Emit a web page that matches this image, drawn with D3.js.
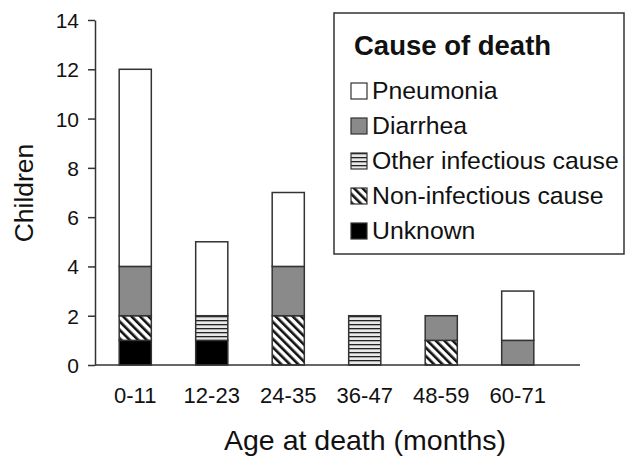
<!DOCTYPE html>
<html><head><meta charset="utf-8">
<script src="https://cdn.jsdelivr.net/npm/d3@7"></script>
<style>
html,body{margin:0;padding:0;background:#fff;}
text{font-family:"Liberation Sans",Arial,sans-serif;fill:#111;}
</style></head>
<body>
<svg id="chart" width="628" height="456"></svg>
<script>
const categories = ["0-11","12-23","24-35","36-47","48-59","60-71"];
const causes = ["Unknown","Non-infectious cause","Other infectious cause","Diarrhea","Pneumonia"];
const unknown        = [1,1,0,0,0,0];
const nonInfectious  = [1,0,2,0,1,0];
const otherInfectious= [0,1,0,2,0,0];
const diarrhea       = [2,0,2,0,1,1];
const pneumonia      = [8,3,3,0,0,2];
const yTicks = [0,2,4,6,8,10,12,14];
const legendOrder = ["Pneumonia","Diarrhea","Other infectious cause","Non-infectious cause","Unknown"];

const seriesByCause = {
  "Unknown": unknown,
  "Non-infectious cause": nonInfectious,
  "Other infectious cause": otherInfectious,
  "Diarrhea": diarrhea,
  "Pneumonia": pneumonia
};
const rows = categories.map((c,i)=>{
  const r = {cat:c};
  causes.forEach(k=>r[k]=seriesByCause[k][i]);
  return r;
});

const svg = d3.select("#chart");
const defs = svg.append("defs");
// horizontal stripes
const ph = defs.append("pattern").attr("id","pHoriz").attr("patternUnits","userSpaceOnUse")
  .attr("width",8).attr("height",4);
ph.append("rect").attr("width",8).attr("height",4).attr("fill","#e8e8e8");
ph.append("rect").attr("y",0).attr("width",8).attr("height",1.3).attr("fill","#222");
// diagonal stripes (\)
const pd = defs.append("pattern").attr("id","pDiag").attr("patternUnits","userSpaceOnUse")
  .attr("width",6).attr("height",6).attr("patternTransform","rotate(-45)");
pd.append("rect").attr("width",6).attr("height",6).attr("fill","#fff");
pd.append("rect").attr("x",0).attr("width",2.6).attr("height",6).attr("fill","#111");

const fills = {
  "Pneumonia":"#ffffff",
  "Diarrhea":"#8a8a8a",
  "Other infectious cause":"url(#pHoriz)",
  "Non-infectious cause":"url(#pDiag)",
  "Unknown":"#000000"
};

const x = d3.scaleBand().domain(categories).range([97,556]).padding(0);
const y = d3.scaleLinear().domain([0,14]).range([365,20]);
const barW = x.bandwidth()*0.42;

const stack = d3.stack().keys(causes)(rows);
const g = svg.append("g");
stack.forEach(layer=>{
  g.selectAll(null).data(layer.filter(d=>d[1]-d[0]>0)).enter().append("rect")
    .attr("x",d=>x(d.data.cat)+x.bandwidth()/2-barW/2)
    .attr("width",barW)
    .attr("y",d=>y(d[1]))
    .attr("height",d=>y(d[0])-y(d[1]))
    .attr("fill",fills[layer.key])
    .attr("stroke","#333").attr("stroke-width",1.5);
});

// y axis
const yAxis = d3.axisLeft(y).tickValues(yTicks).tickSize(7).tickPadding(9).tickSizeOuter(0);
const ya = svg.append("g").attr("transform","translate(95,0)").call(yAxis);
ya.select(".domain").attr("stroke","#333").attr("stroke-width",1.5);
ya.selectAll(".tick line").attr("stroke","#333").attr("stroke-width",1.5);
ya.selectAll(".tick text").style("font-size","21px").attr("fill","#111").attr("dy","0.36em");

// x axis baseline
svg.append("line").attr("x1",95).attr("x2",580).attr("y1",y(0)).attr("y2",y(0))
  .attr("stroke","#333").attr("stroke-width",1.5);
const xAxis = d3.axisBottom(x).tickSize(0).tickPadding(0);
const xa = svg.append("g").attr("transform","translate(0,"+y(0)+")").call(xAxis);
xa.select(".domain").remove();
xa.selectAll(".tick text").style("font-size","22px").attr("fill","#111").attr("y",38).attr("dy",0);

// axis titles
svg.append("text").attr("x",365).attr("y",450).attr("text-anchor","middle")
  .style("font-size","28.5px").text("Age at death (months)");
svg.append("text").attr("transform","translate(33,193) rotate(-90)").attr("text-anchor","middle")
  .style("font-size","26.5px").text("Children");

// legend
const lg = svg.append("g");
lg.append("rect").attr("x",334).attr("y",13).attr("width",290).attr("height",241)
  .attr("fill","#fff").attr("stroke","#333").attr("stroke-width",1.5);
lg.append("text").attr("x",354).attr("y",55).style("font-size","27.5px").style("font-weight","bold")
  .text("Cause of death");
const items = lg.selectAll("g.item").data(legendOrder).enter().append("g")
  .attr("transform",(d,i)=>"translate(351,"+(99+35*i)+")");
items.append("rect").attr("x",0).attr("y",-16).attr("width",16).attr("height",16)
  .attr("fill",d=>fills[d]).attr("stroke","#333").attr("stroke-width",1.2);
items.append("text").attr("x",21).attr("y",0).style("font-size","24.8px").text(d=>d);
</script>
</body></html>
